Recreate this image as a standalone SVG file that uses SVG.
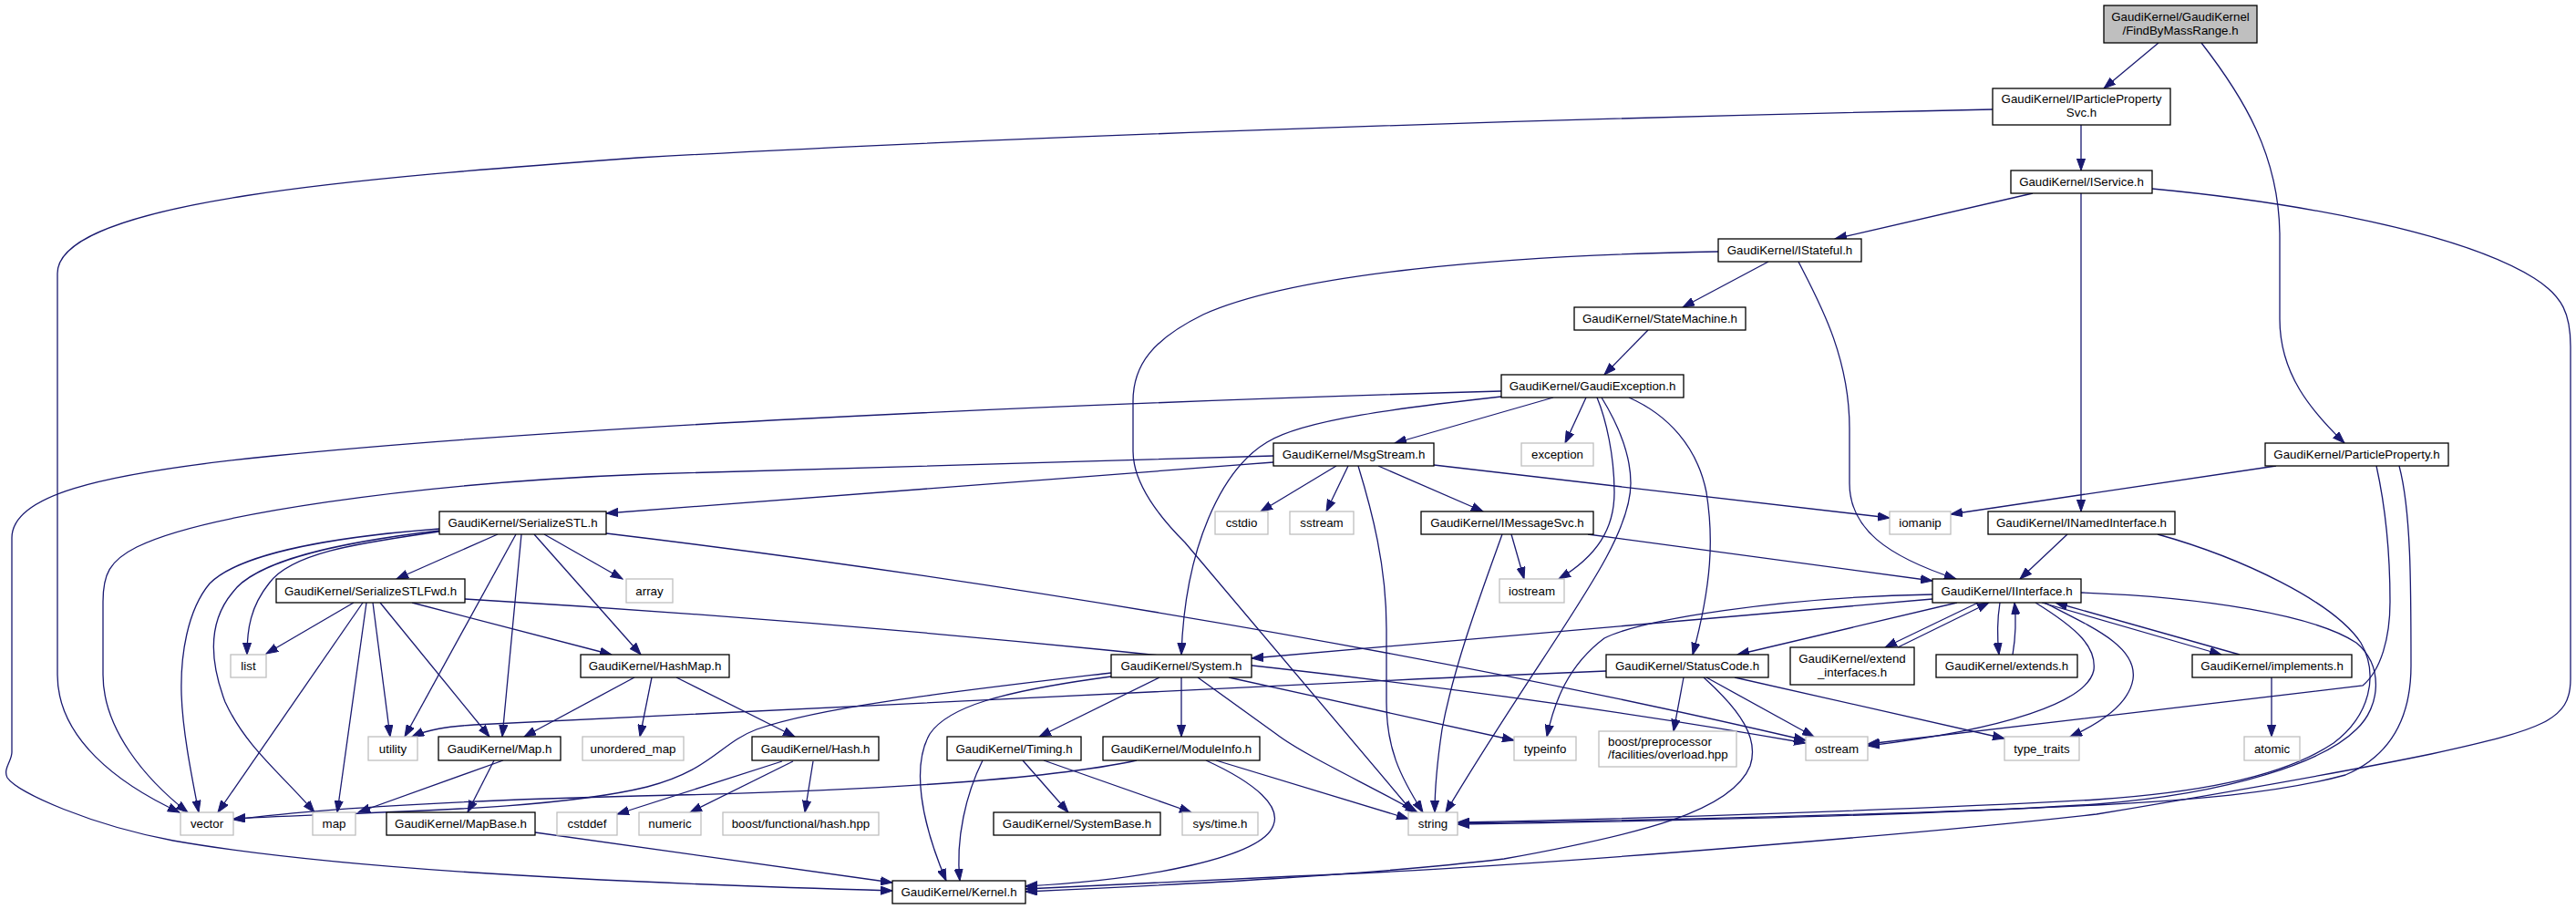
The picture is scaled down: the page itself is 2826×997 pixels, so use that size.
<svg xmlns="http://www.w3.org/2000/svg" width="2826" height="997" viewBox="0 0 2826 997">
<style>
.e{fill:none;stroke:#191970;stroke-width:1.3;marker-end:url(#a)}
.n rect{fill:#fff;stroke:#000;stroke-width:1.3}
.u rect{fill:#fff;stroke:#bfbfbf;stroke-width:1.3}
.r rect{fill:#bfbfbf;stroke:#000;stroke-width:1.3}
text{font-family:"Liberation Sans",Arial,Helvetica,sans-serif;font-size:13.3px;fill:#000;text-anchor:middle}
text.l{text-anchor:start}
</style>
<defs>
<marker id="a" markerWidth="14" markerHeight="10" refX="13" refY="5" orient="auto" markerUnits="userSpaceOnUse"><path d="M0,0.4 L13,5 L0,9.6 z" fill="#191970" stroke="#191970" stroke-width="1"/></marker>
</defs>
<rect width="2826" height="997" fill="#fff"/>
<g id="edges">
<path class="e" d="M2368,47 L2308,97"/>
<path class="e" d="M2415,47 C2460,105 2501,170 2501,260 L2501,350 C2501,410 2535,450 2572,486"/>
<path class="e" d="M2283,137 L2283,187"/>
<path class="e" d="M2186,120 C1700,130 1100,150 700,173 C400,195 63,220 63,300 L63,740 C63,810 130,860 197,891"/>
<path class="e" d="M2230,212 L2013,262"/>
<path class="e" d="M2283,212 L2283,561"/>
<path class="e" d="M2361,207 C2520,222 2700,255 2780,305 C2812,325 2820,345 2820,380 L2820,745 C2820,790 2790,800 2667,827 C2580,845 2450,868 2300,893 C2150,910 1700,950 1420,961 C1300,966 1200,971 1125,975"/>
<path class="e" d="M1940,287 L1846,337"/>
<path class="e" d="M1885,276 C1650,280 1420,300 1320,345 C1265,372 1243,400 1243,440 L1243,495 C1243,530 1270,565 1300,595 L1550,891"/>
<path class="e" d="M1973,287 C1995,330 2029,390 2029,470 L2029,530 C2029,580 2070,610 2146,635"/>
<path class="e" d="M1808,362 L1760,411"/>
<path class="e" d="M1704,436 L1530,486"/>
<path class="e" d="M1740,436 L1717,486"/>
<path class="e" d="M1752,436 C1762,460 1771,500 1771,540 C1771,580 1752,610 1710,635"/>
<path class="e" d="M1757,436 C1776,467 1789,500 1789,530 C1789,600 1700,700 1586,891"/>
<path class="e" d="M1787,436 C1830,455 1862,490 1872,540 C1880,590 1878,640 1857,718"/>
<path class="e" d="M1647,435 C1540,447 1430,460 1390,485 C1340,515 1300,600 1296,718"/>
<path class="e" d="M1647,429 C1100,445 600,470 300,500 C100,520 13,545 13,590 L13,825 C13,835 3,843 8,853 C20,870 100,905 190,922 C350,950 600,966 979,977"/>
<path class="e" d="M1397,507 L665,563"/>
<path class="e" d="M1397,500 C1100,508 900,514 710,520 C450,530 220,565 150,600 C120,615 113,630 113,660 L113,740 C113,800 160,855 206,891"/>
<path class="e" d="M1466,511 L1383,561"/>
<path class="e" d="M1479,511 L1455,561"/>
<path class="e" d="M1490,511 C1505,560 1521,620 1521,690 L1521,770 C1521,820 1535,850 1561,891"/>
<path class="e" d="M1512,511 L1627,561"/>
<path class="e" d="M1573,510 L2073,568"/>
<path class="e" d="M1658,586 L1672,635"/>
<path class="e" d="M1648,586 C1625,650 1595,730 1582,800 C1576,840 1574,870 1574,891"/>
<path class="e" d="M1742,586 L2120,637"/>
<path class="e" d="M2497,511 L2140,564"/>
<path class="e" d="M2607,511 C2620,570 2622,620 2622,660 C2622,700 2612,735 2592,752 L2049,816"/>
<path class="e" d="M2632,511 C2645,560 2645,640 2645,730 C2645,790 2620,830 2573,850 C2500,870 2400,878 2300,883 C2100,893 1800,900 1599,903"/>
<path class="e" d="M2268,586 L2216,635"/>
<path class="e" d="M2367,586 C2460,612 2560,660 2590,705 C2610,740 2600,785 2560,815 C2500,855 2400,870 2300,877 C2100,888 1800,898 1599,902"/>
<path class="e" d="M546,586 L435,635"/>
<path class="e" d="M482,583 C400,595 320,605 295,640 C275,665 271,690 271,718"/>
<path class="e" d="M482,580 C350,590 260,610 230,640 C205,670 198,720 199,760 C200,800 210,850 218,891"/>
<path class="e" d="M482,582 C370,595 280,615 255,650 C230,680 228,720 247,770 C270,820 310,850 345,891"/>
<path class="e" d="M566,586 L444,808"/>
<path class="e" d="M572,586 L551,808"/>
<path class="e" d="M586,586 L703,718"/>
<path class="e" d="M597,586 L683,635"/>
<path class="e" d="M665,585 C1000,625 1500,700 1981,812"/>
<path class="e" d="M388,661 L292,717"/>
<path class="e" d="M398,661 L239,891"/>
<path class="e" d="M402,661 L370,891"/>
<path class="e" d="M409,661 L428,808"/>
<path class="e" d="M417,661 L537,808"/>
<path class="e" d="M452,661 L671,718"/>
<path class="e" d="M510,657 C900,680 1500,730 1981,815"/>
<path class="e" d="M696,743 L575,808"/>
<path class="e" d="M715,743 L702,808"/>
<path class="e" d="M742,743 L872,808"/>
<path class="e" d="M552,834 L393,891"/>
<path class="e" d="M542,834 L513,891"/>
<path class="e" d="M587,913 L979,968"/>
<path class="e" d="M858,835 L677,893"/>
<path class="e" d="M870,835 L757,891"/>
<path class="e" d="M892,835 L883,891"/>
<path class="e" d="M1219,738 C1050,758 900,775 830,800 C790,815 780,845 710,863 C600,890 400,890 256,898"/>
<path class="e" d="M1219,742 C1100,758 1040,775 1020,805 C1000,840 1010,900 1038,966"/>
<path class="e" d="M1272,743 L1140,808"/>
<path class="e" d="M1296,743 L1296,808"/>
<path class="e" d="M1348,743 L1661,812"/>
<path class="e" d="M1314,743 L1400,805 C1430,828 1500,860 1555,891"/>
<path class="e" d="M1247,834 C1150,855 950,868 700,873 C500,878 350,887 256,899"/>
<path class="e" d="M1078,834 C1060,870 1048,920 1053,966"/>
<path class="e" d="M1122,834 L1172,891"/>
<path class="e" d="M1145,834 L1307,891"/>
<path class="e" d="M1334,834 L1545,898"/>
<path class="e" d="M1323,834 C1380,860 1405,885 1397,905 C1385,940 1260,965 1125,972"/>
<path class="e" d="M1762,736 C1300,755 800,780 520,795 C490,797 470,800 452,808"/>
<path class="e" d="M1847,743 L1836,802"/>
<path class="e" d="M1872,743 L1990,808"/>
<path class="e" d="M1869,743 C1910,780 1930,810 1920,840 C1900,890 1800,915 1650,942 C1500,960 1300,970 1125,978"/>
<path class="e" d="M1903,743 L2199,810"/>
<path class="e" d="M2120,657 L1373,722"/>
<path class="e" d="M2120,652 C1950,655 1800,680 1760,700 C1720,730 1705,770 1697,808"/>
<path class="e" d="M2147,661 L1906,718"/>
<path class="e" d="M2170,661 L2068,710"/>
<path class="e" d="M2082,710 L2182,661"/>
<path class="e" d="M2194,661 C2191,680 2191,700 2193,718"/>
<path class="e" d="M2208,718 C2211,700 2212,680 2210,661"/>
<path class="e" d="M2240,661 L2437,718"/>
<path class="e" d="M2457,718 L2255,661"/>
<path class="e" d="M2233,661 C2280,690 2300,710 2297,735 C2290,770 2200,800 2049,818"/>
<path class="e" d="M2243,661 C2300,690 2345,710 2340,745 C2335,775 2300,795 2271,808"/>
<path class="e" d="M2283,650 C2420,655 2540,675 2585,705 C2615,730 2612,775 2585,800 C2550,835 2450,870 2300,882 C2100,895 1800,901 1599,904"/>
<path class="e" d="M2492,743 L2492,808"/>
</g>
<g id="n_root" class="r"><rect x="2308" y="6" width="168" height="41"/><text x="2392" y="23.3">GaudiKernel/GaudiKernel</text><text x="2392" y="37.8">/FindByMassRange.h</text></g>
<g id="n_ipps" class="n"><rect x="2186" y="97" width="195" height="40"/><text x="2283.5" y="113.3">GaudiKernel/IParticleProperty</text><text x="2283.5" y="128.3">Svc.h</text></g>
<g id="n_iservice" class="n"><rect x="2206" y="187" width="155" height="25"/><text x="2283.5" y="204.2">GaudiKernel/IService.h</text></g>
<g id="n_istateful" class="n"><rect x="1885" y="262" width="157" height="25"/><text x="1963.5" y="279.2">GaudiKernel/IStateful.h</text></g>
<g id="n_statemachine" class="n"><rect x="1727" y="337" width="188" height="25"/><text x="1821" y="354.2">GaudiKernel/StateMachine.h</text></g>
<g id="n_gaudiexception" class="n"><rect x="1647" y="411" width="200" height="25"/><text x="1747" y="428.2">GaudiKernel/GaudiException.h</text></g>
<g id="n_msgstream" class="n"><rect x="1397" y="486" width="176" height="25"/><text x="1485" y="503.2">GaudiKernel/MsgStream.h</text></g>
<g id="n_exception" class="u"><rect x="1669" y="486" width="79" height="25"/><text x="1708.5" y="503.2">exception</text></g>
<g id="n_particleproperty" class="n"><rect x="2485" y="486" width="201" height="25"/><text x="2585.5" y="503.2">GaudiKernel/ParticleProperty.h</text></g>
<g id="n_serializestl" class="n"><rect x="482" y="561" width="183" height="25"/><text x="573.5" y="578.2">GaudiKernel/SerializeSTL.h</text></g>
<g id="n_cstdio" class="u"><rect x="1333" y="561" width="58" height="25"/><text x="1362" y="578.2">cstdio</text></g>
<g id="n_sstream" class="u"><rect x="1415" y="561" width="70" height="25"/><text x="1450" y="578.2">sstream</text></g>
<g id="n_imessagesvc" class="n"><rect x="1559" y="561" width="189" height="25"/><text x="1653.5" y="578.2">GaudiKernel/IMessageSvc.h</text></g>
<g id="n_iomanip" class="u"><rect x="2073" y="561" width="67" height="25"/><text x="2106.5" y="578.2">iomanip</text></g>
<g id="n_inamedinterface" class="n"><rect x="2181" y="561" width="205" height="25"/><text x="2283.5" y="578.2">GaudiKernel/INamedInterface.h</text></g>
<g id="n_serializestlfwd" class="n"><rect x="303" y="635" width="207" height="26"/><text x="406.5" y="652.7">GaudiKernel/SerializeSTLFwd.h</text></g>
<g id="n_array" class="u"><rect x="687" y="635" width="51" height="26"/><text x="712.5" y="652.7">array</text></g>
<g id="n_iostream" class="u"><rect x="1645" y="635" width="71" height="26"/><text x="1680.5" y="652.7">iostream</text></g>
<g id="n_iinterface" class="n"><rect x="2120" y="635" width="163" height="26"/><text x="2201.5" y="652.7">GaudiKernel/IInterface.h</text></g>
<g id="n_list" class="u"><rect x="253" y="718" width="39" height="25"/><text x="272.5" y="735.2">list</text></g>
<g id="n_hashmap" class="n"><rect x="637" y="718" width="163" height="25"/><text x="718.5" y="735.2">GaudiKernel/HashMap.h</text></g>
<g id="n_system" class="n"><rect x="1219" y="718" width="154" height="25"/><text x="1296" y="735.2">GaudiKernel/System.h</text></g>
<g id="n_statuscode" class="n"><rect x="1762" y="718" width="178" height="25"/><text x="1851" y="735.2">GaudiKernel/StatusCode.h</text></g>
<g id="n_extend_interfaces" class="n"><rect x="1964" y="710" width="136" height="41"/><text x="2032" y="727.3">GaudiKernel/extend</text><text x="2032" y="741.7">_interfaces.h</text></g>
<g id="n_extends" class="n"><rect x="2124" y="718" width="155" height="25"/><text x="2201.5" y="735.2">GaudiKernel/extends.h</text></g>
<g id="n_implements" class="n"><rect x="2405" y="718" width="175" height="25"/><text x="2492.5" y="735.2">GaudiKernel/implements.h</text></g>
<g id="n_utility" class="u"><rect x="404" y="808" width="54" height="26"/><text x="431" y="825.7">utility</text></g>
<g id="n_map_h" class="n"><rect x="481" y="808" width="134" height="26"/><text x="548" y="825.7">GaudiKernel/Map.h</text></g>
<g id="n_unordered_map" class="u"><rect x="639" y="808" width="111" height="26"/><text x="694.5" y="825.7">unordered_map</text></g>
<g id="n_hash" class="n"><rect x="825" y="808" width="139" height="26"/><text x="894.5" y="825.7">GaudiKernel/Hash.h</text></g>
<g id="n_timing" class="n"><rect x="1039" y="808" width="147" height="26"/><text x="1112.5" y="825.7">GaudiKernel/Timing.h</text></g>
<g id="n_moduleinfo" class="n"><rect x="1210" y="808" width="172" height="26"/><text x="1296" y="825.7">GaudiKernel/ModuleInfo.h</text></g>
<g id="n_typeinfo" class="u"><rect x="1661" y="808" width="68" height="26"/><text x="1695" y="825.7">typeinfo</text></g>
<g id="n_boost_pp" class="u"><rect x="1754" y="802" width="151" height="39"/><text class="l" x="1764" y="817.7">boost/preprocessor</text><text class="l" x="1764" y="832.3">/facilities/overload.hpp</text></g>
<g id="n_ostream" class="u"><rect x="1981" y="808" width="68" height="26"/><text x="2015" y="825.7">ostream</text></g>
<g id="n_type_traits" class="u"><rect x="2199" y="808" width="82" height="26"/><text x="2240" y="825.7">type_traits</text></g>
<g id="n_atomic" class="u"><rect x="2462" y="808" width="61" height="26"/><text x="2492.5" y="825.7">atomic</text></g>
<g id="n_vector" class="u"><rect x="198" y="891" width="58" height="25"/><text x="227" y="908.2">vector</text></g>
<g id="n_map" class="u"><rect x="343" y="891" width="47" height="25"/><text x="366.5" y="908.2">map</text></g>
<g id="n_mapbase" class="n"><rect x="424" y="891" width="163" height="25"/><text x="505.5" y="908.2">GaudiKernel/MapBase.h</text></g>
<g id="n_cstddef" class="u"><rect x="611" y="891" width="66" height="25"/><text x="644" y="908.2">cstddef</text></g>
<g id="n_numeric" class="u"><rect x="701" y="891" width="68" height="25"/><text x="735" y="908.2">numeric</text></g>
<g id="n_boost_hash" class="u"><rect x="793" y="891" width="171" height="25"/><text x="878.5" y="908.2">boost/functional/hash.hpp</text></g>
<g id="n_systembase" class="n"><rect x="1090" y="891" width="183" height="25"/><text x="1181.5" y="908.2">GaudiKernel/SystemBase.h</text></g>
<g id="n_systime" class="u"><rect x="1297" y="891" width="83" height="25"/><text x="1338.5" y="908.2">sys/time.h</text></g>
<g id="n_string" class="u"><rect x="1545" y="891" width="54" height="25"/><text x="1572" y="908.2">string</text></g>
<g id="n_kernel" class="n"><rect x="979" y="966" width="146" height="25"/><text x="1052" y="983.2">GaudiKernel/Kernel.h</text></g>
</svg>
